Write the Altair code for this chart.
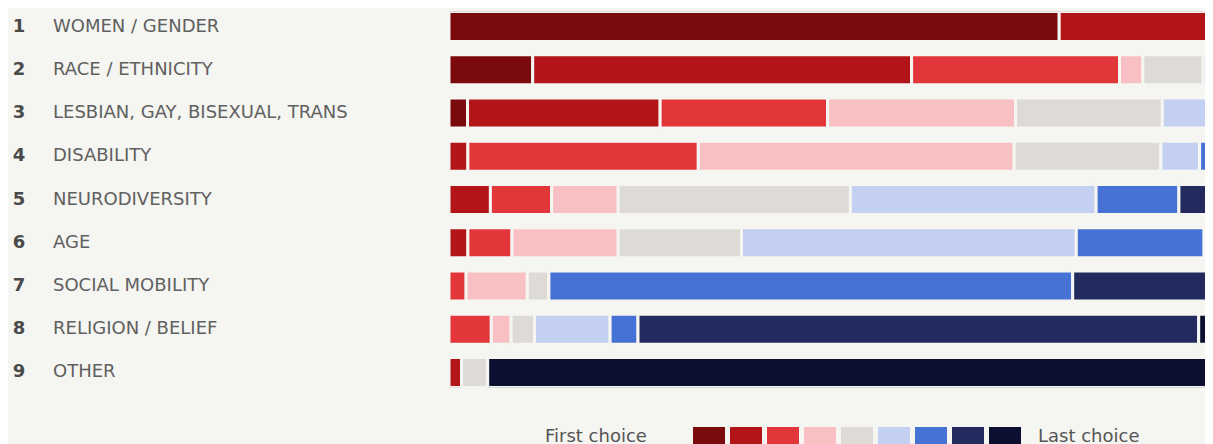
import altair as alt
import pandas as pd

categories = ["WOMEN / GENDER", "RACE / ETHNICITY", "LESBIAN, GAY, BISEXUAL, TRANS",
              "DISABILITY", "NEURODIVERSITY", "AGE", "SOCIAL MOBILITY",
              "RELIGION / BELIEF", "OTHER"]
numbers = ["1", "2", "3", "4", "5", "6", "7", "8", "9"]
ranks = [1, 2, 3, 4, 5, 6, 7, 8, 9]
colors = ["#7a0a0b", "#b11518", "#e3363a", "#f9c0c3", "#dedad6",
          "#c3d0f2", "#4671d5", "#222a5e", "#0c1030"]
legend_ends = ["First choice", "Last choice"]

# share of respondents (%) giving each rank, per category (rank 1 .. rank 9)
women = [67.8, 20.0, 5.6, 2.8, 1.7, 1.1, 0.5, 0.3, 0.2]
race = [9.3, 42.1, 23.1, 2.6, 6.7, 8.0, 4.0, 2.5, 1.7]
lgbt = [2.06, 21.4, 18.6, 20.9, 16.3, 5.2, 7.0, 5.0, 3.54]
disability = [0.0, 2.1, 25.6, 35.1, 16.3, 4.3, 8.0, 5.0, 3.6]
neuro = [0.0, 4.6, 6.8, 7.4, 25.8, 27.3, 9.2, 12.0, 6.9]
age = [0.0, 2.1, 4.9, 11.8, 13.7, 37.2, 14.2, 10.0, 6.1]
social = [0.0, 0.0, 1.9, 6.8, 2.4, 0.0, 58.2, 26.0, 4.7]
religion = [0.0, 0.0, 4.7, 2.2, 2.6, 8.4, 3.1, 62.3, 16.7]
other = [0.0, 1.4, 0.0, 0.0, 2.9, 0.0, 0.0, 0.0, 95.7]
series = [women, race, lgbt, disability, neuro, age, social, religion, other]

visible_max = 84.0  # the picture shows only the left part of each 100% bar

rows = []
for cat, vals in zip(categories, series):
    for r, v in zip(ranks, vals):
        rows.append({"category": cat, "rank": r, "value": v})
df = pd.DataFrame(rows)
labels_df = pd.DataFrame({"category": categories, "num": numbers})

bg = "#f5f5f1"
font = "DejaVu Sans"

yenc = alt.Y("category:N", sort=categories, axis=None,
             scale=alt.Scale(paddingInner=0.306, paddingOuter=0))

bars = alt.Chart(df).mark_bar(clip=True, stroke=bg, strokeWidth=3).encode(
    x=alt.X("value:Q", stack="zero", axis=None,
            scale=alt.Scale(domain=[0, visible_max], nice=False, zero=True)),
    y=yenc,
    color=alt.Color("rank:O", scale=alt.Scale(domain=ranks, range=colors),
                    legend=alt.Legend(
                        orient="none", legendX=244, legendY=408.5,
                        direction="horizontal", title=None,
                        labelExpr="''", labelOffset=0, columnPadding=5,
                        padding=0,
                        symbolType="M-1,-0.5625H1V0.5625H-1Z", symbolSize=1024,
                        symbolStrokeWidth=0, symbolOpacity=1)),
    order=alt.Order("rank:Q"),
)

nums = alt.Chart(labels_df).mark_text(
    align="center", baseline="middle", font=font, fontSize=18,
    fontWeight="bold", color="#4a4a4a"
).encode(x=alt.value(-430), y=yenc, text="num:N")

names = alt.Chart(labels_df).mark_text(
    align="left", baseline="middle", font=font, fontSize=18, color="#606060"
).encode(x=alt.value(-396), y=yenc, text="category:N")

ends_df = pd.DataFrame({"t": legend_ends, "px": [96, 589]})
ends = alt.Chart(ends_df).mark_text(
    align="left", baseline="middle", font=font, fontSize=18, color="#555555"
).encode(x=alt.X("px:Q", scale=None), y=alt.value(425), text="t:N")

chart = alt.layer(bars, nums, names, ends).properties(
    width=756, height=376,
    padding={"left": 441, "top": 3.5, "right": 0, "bottom": 56.5},
    autosize=alt.AutoSizeParams(type="none"),
    background=bg,
).configure_view(stroke=None)

chart.save("out.html", embed_options={"renderer": "svg", "actions": False})
